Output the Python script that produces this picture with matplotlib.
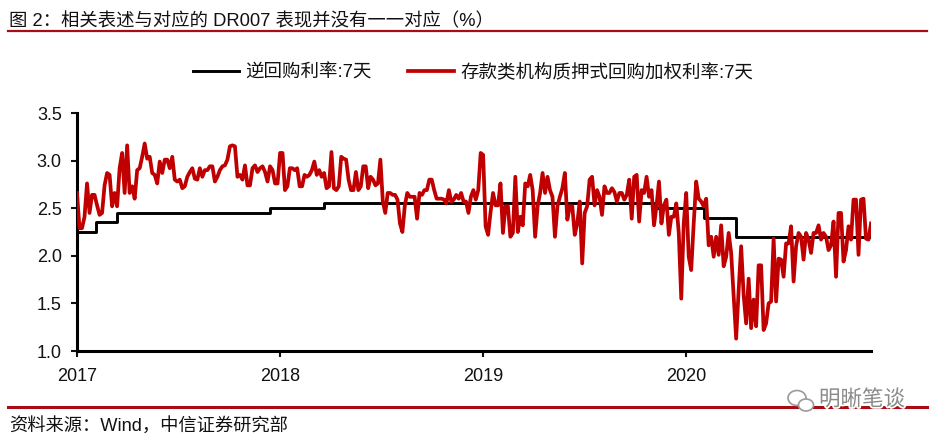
import numpy as np
import matplotlib
matplotlib.use('Agg')
import matplotlib.pyplot as plt
from matplotlib.lines import Line2D
from matplotlib.patches import Ellipse
import matplotlib.patheffects as pe

plt.rcParams['font.family'] = ['Liberation Sans', 'Noto Sans CJK SC']

title = '图 2：相关表述与对应的 DR007 表现并没有一一对应（%）'
source = '资料来源：Wind，中信证券研究部'
watermark = '明晰笔谈'
name_repo = '逆回购利率:7天'
name_dr = '存款类机构质押式回购加权利率:7天'
y_ticks = [1.0, 1.5, 2.0, 2.5, 3.0, 3.5]
x_ticks = [2017, 2018, 2019, 2020]

repo_dates = [2017.0, 2017.092, 2017.199, 2017.95, 2018.217, 2019.84, 2020.09, 2020.247, 2020.91]
repo_rates = [2.25, 2.35, 2.45, 2.50, 2.55, 2.50, 2.40, 2.20, 2.20]

dr_2017 = [2.66, 2.29, 2.29, 2.41, 2.76, 2.45, 2.64, 2.64, 2.53, 2.43, 2.45, 2.74, 2.87, 2.85, 2.52, 2.66,
           2.52, 2.92, 3.08, 2.66, 3.16, 2.66, 2.73, 2.60, 2.90, 2.92, 3.04, 3.18, 3.02, 3.04, 2.87, 2.85,
           2.76, 2.99, 2.87, 3.01, 3.01, 2.92, 3.04, 2.80, 2.78, 2.80, 2.71, 2.73, 2.83, 2.88, 2.92, 2.81,
           2.80, 2.92, 2.83, 2.90, 2.90, 2.94, 2.94, 2.78, 2.83, 2.90, 2.94, 2.95, 3.01, 3.15, 3.16, 3.15,
           2.83, 2.85, 2.80, 2.95, 2.74, 2.74, 2.92, 2.95, 2.88, 2.92, 2.94, 2.88, 2.78, 2.94, 2.90, 2.76, 2.76]
dr_2018 = [3.08, 3.08, 2.69, 2.73, 2.92, 2.92, 2.90, 2.92, 2.73, 2.73, 2.85, 2.83, 2.85, 2.90, 2.99, 2.85,
           2.90, 2.83, 2.87, 2.71, 2.73, 3.09, 2.71, 2.69, 2.73, 3.04, 3.02, 3.01, 2.80, 2.69, 2.69, 2.88,
           2.69, 2.73, 2.94, 2.94, 2.71, 2.83, 2.80, 2.74, 2.76, 3.01, 2.57, 2.45, 2.66, 2.66, 2.64, 2.64,
           2.59, 2.34, 2.25, 2.53, 2.66, 2.62, 2.62, 2.62, 2.39, 2.66, 2.64, 2.69, 2.69, 2.80, 2.80, 2.69,
           2.60, 2.60, 2.60, 2.59, 2.55, 2.69, 2.57, 2.59, 2.64, 2.60, 2.66, 2.57, 2.57, 2.45, 2.62, 2.69,
           2.59, 2.69, 3.08]
dr_2019 = [3.06, 2.31, 2.22, 2.46, 2.66, 2.53, 2.53, 2.76, 2.24, 2.52, 2.52, 2.20, 2.24, 2.83, 2.25, 2.41,
           2.32, 2.76, 2.73, 2.85, 2.69, 2.20, 2.52, 2.66, 2.87, 2.66, 2.83, 2.69, 2.62, 2.20, 2.52, 2.62,
           2.71, 2.87, 2.38, 2.52, 2.52, 2.22, 2.34, 2.57, 1.92, 2.45, 2.52, 2.80, 2.83, 2.53, 2.69, 2.62,
           2.43, 2.73, 2.66, 2.66, 2.71, 2.67, 2.57, 2.66, 2.66, 2.59, 2.64, 2.80, 2.39, 2.83, 2.85, 2.36,
           2.69, 2.66, 2.83, 2.62, 2.69, 2.32, 2.52, 2.78, 2.34, 2.53, 2.59, 2.22, 2.41, 2.41, 2.55, 2.24,
           1.55, 2.34]
dr_2020 = [2.66, 1.99, 1.85, 2.34, 2.78, 2.60, 2.57, 2.52, 2.60, 2.11, 2.20, 1.99, 2.20, 2.01, 2.32, 1.89,
           1.99, 2.24, 2.03, 1.57, 1.13, 1.64, 2.10, 1.59, 1.29, 1.76, 1.24, 1.54, 1.26, 1.90, 1.90, 1.22,
           1.29, 1.50, 1.52, 2.18, 1.52, 1.97, 1.96, 1.78, 2.13, 2.13, 2.31, 1.73, 2.10, 2.24, 2.20, 1.96,
           2.24, 2.17, 2.03, 2.24, 2.24, 2.32, 2.17, 2.24, 2.20, 2.06, 2.11, 2.36, 1.78, 2.45, 2.45, 1.94,
           2.06, 2.31, 2.17, 2.59, 2.59, 2.01, 2.59, 2.60, 2.18, 2.17, 2.34]

year_spans = [(2017.0, 2018.0, dr_2017), (2018.0, 2019.0, dr_2018), (2019.0, 2020.0, dr_2019), (2020.0, 2020.91, dr_2020)]
dr_dates = np.concatenate([np.linspace(a, b, len(v), endpoint=b >= 2020.91) for a, b, v in year_spans])
dr_rates = np.concatenate([v for _, _, v in year_spans])

W, H = 937, 442
fig = plt.figure(figsize=(W / 100, H / 100), dpi=100, facecolor='white')
ax = fig.add_axes([77 / W, 1 - 351 / H, (871 - 77) / W, (351 - 113) / H])

ln_repo, = ax.step(repo_dates, repo_rates, where='post', color='black', lw=2.1, label=name_repo, zorder=2)
ln_dr, = ax.plot(dr_dates, dr_rates, color='#C00000', lw=2.7, label=name_dr, zorder=3, solid_joinstyle='round')

ax.set_xlim(2017, 2020.91)
ax.set_ylim(1.0, 3.5)
ax.set_xticks(x_ticks)
ax.set_xticklabels([str(t) for t in x_ticks])
ax.set_yticks(y_ticks)
ax.set_yticklabels([f'{t:.1f}' for t in y_ticks])
for s in ['top', 'right']:
    ax.spines[s].set_visible(False)
for s in ['left', 'bottom']:
    ax.spines[s].set_linewidth(2.2)
ax.tick_params(axis='both', direction='out', length=4, width=1.5, labelsize=13, colors='#111111')
ax.tick_params(axis='y', pad=7)
ax.tick_params(axis='x', pad=8)

fig.legend(handles=[ln_repo, ln_dr], loc='center', bbox_to_anchor=(473 / W, 1 - 73 / H), ncol=2, frameon=False,
           fontsize=13.3, handlelength=2.5, handletextpad=0.3, columnspacing=2.0, borderpad=0, labelcolor='#111111')

fig.text(9 / W, 1 - 21 / H, title, fontsize=13.2, va='center', ha='left', color='#111111')
fig.text(9 / W, 1 - 427 / H, source, fontsize=13.15, va='center', ha='left', color='#111111')

fig.add_artist(Line2D([8 / W, 927 / W], [1 - 30.7 / H] * 2, color='#A80C14', lw=1.6, transform=fig.transFigure))
fig.add_artist(Line2D([8 / W, 927 / W], [1 - 407 / H] * 2, color='#A80C14', lw=2.2, transform=fig.transFigure))

fig.text(862 / W, 1 - 400 / H, watermark, fontsize=15.5, va='center', ha='center', color='#8a8a8a',
         path_effects=[pe.withStroke(linewidth=2.5, foreground='white')], zorder=10)
for cx, cy, w_, h_ in [(797, 398, 18, 15), (806, 405, 15, 12)]:
    fig.add_artist(Ellipse((cx / W, 1 - cy / H), w_ / W, h_ / H, transform=fig.transFigure,
                           fc='white', ec='#9a9a9a', lw=1.2, zorder=9))

fig.savefig('out.png', dpi=100, facecolor='white')
